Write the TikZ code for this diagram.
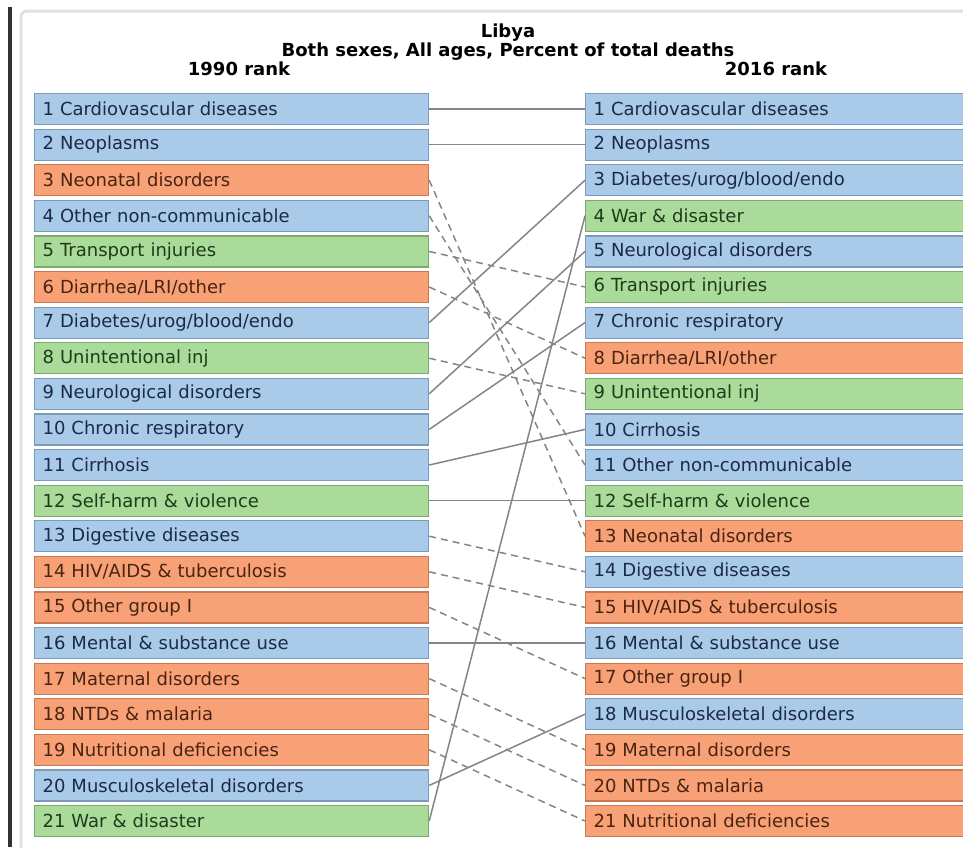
\documentclass[tikz,border=0pt]{standalone}
\usepackage{fontspec}
\setmainfont{DejaVu Sans}
\usetikzlibrary{positioning}

\definecolor{ncdfill}{HTML}{A9CAE8}
\definecolor{ncdline}{HTML}{7D9BB8}
\definecolor{ncdtext}{HTML}{1B2B45}
\definecolor{cmnnfill}{HTML}{F9A176}
\definecolor{cmnnline}{HTML}{C87852}
\definecolor{cmnntext}{HTML}{4A2412}
\definecolor{injfill}{HTML}{AADB9A}
\definecolor{injline}{HTML}{7AAA6E}
\definecolor{injtext}{HTML}{1F3B19}
\definecolor{linkgrey}{HTML}{858585}

\begin{document}
\begin{tikzpicture}
	[x=1pt,y=-1pt,
	cause/.style={shape=rectangle,draw,line width=1.2pt,anchor=west,inner xsep=8pt,
		inner ysep=0pt,minimum height=31pt,align=left,font=\fontsize{18}{21}\selectfont},
	title/.style={anchor=base,inner sep=0pt,font=\fontsize{18}{20}\selectfont\bfseries},
	link/.style={draw=linkgrey,line width=1.5pt},
	drop/.style={link,dash pattern=on 7pt off 5pt}]
	\useasboundingbox (0,0) rectangle (963,847);
	\clip (0,0) rectangle (963,847);
	\draw[line width=3pt,draw=black!12,rounded corners=6pt] (21,11) rectangle (1000,900);
	\fill[black!80] (8,7) rectangle (12,847);
	
	\node[title] (country) at (508,37.5) {Libya};
	\node[title] (measure) at (508,56) {Both sexes, All ages, Percent of total deaths};
	\node[title] (oldrank) at (239,75) {1990 rank};
	\node[title] (newrank) at (776,75) {2016 rank};
	
	\foreach \i/\name/\kind in {1/Cardiovascular diseases/ncd,2/Neoplasms/ncd,
		3/Neonatal disorders/cmnn,4/Other non-communicable/ncd,5/Transport injuries/inj,
		6/{Diarrhea/LRI/other}/cmnn,7/{Diabetes/urog/blood/endo}/ncd,8/Unintentional inj/inj,
		9/Neurological disorders/ncd,10/Chronic respiratory/ncd,11/Cirrhosis/ncd,
		12/Self-harm \& violence/inj,13/Digestive diseases/ncd,14/{HIV/AIDS \& tuberculosis}/cmnn,
		15/Other group I/cmnn,16/Mental \& substance use/ncd,17/Maternal disorders/cmnn,
		18/NTDs \& malaria/cmnn,19/Nutritional deficiencies/cmnn,20/Musculoskeletal disorders/ncd,
		21/War \& disaster/inj}
	{
		\node[cause,text width=378pt,fill=\kind fill,draw=\kind line,text=\kind text]
			(l\i) at (34,{109+(\i-1)*35.6}) {\i\ \name};
	}
	
	\foreach \i/\name/\kind in {1/Cardiovascular diseases/ncd,2/Neoplasms/ncd,
		3/{Diabetes/urog/blood/endo}/ncd,4/War \& disaster/inj,5/Neurological disorders/ncd,
		6/Transport injuries/inj,7/Chronic respiratory/ncd,8/{Diarrhea/LRI/other}/cmnn,
		9/Unintentional inj/inj,10/Cirrhosis/ncd,11/Other non-communicable/ncd,
		12/Self-harm \& violence/inj,13/Neonatal disorders/cmnn,14/Digestive diseases/ncd,
		15/{HIV/AIDS \& tuberculosis}/cmnn,16/Mental \& substance use/ncd,17/Other group I/cmnn,
		18/Musculoskeletal disorders/ncd,19/Maternal disorders/cmnn,20/NTDs \& malaria/cmnn,
		21/Nutritional deficiencies/cmnn}
	{
		\node[cause,text width=400pt,fill=\kind fill,draw=\kind line,text=\kind text]
			(r\i) at (585,{109+(\i-1)*35.6}) {\i\ \name};
	}
	
	\path
	\foreach \oldNode/\newNode in {1/1,2/2,7/3,9/5,10/7,11/10,12/12,16/16,20/18,21/4}
	{
		(l\oldNode.east) edge[link] (r\newNode.west)
	};
	\path
	\foreach \oldNode/\newNode in {3/13,4/11,5/6,6/8,8/9,13/14,14/15,15/17,17/19,18/20,19/21}
	{
		(l\oldNode.east) edge[drop] (r\newNode.west)
	};
\end{tikzpicture}
\end{document}
